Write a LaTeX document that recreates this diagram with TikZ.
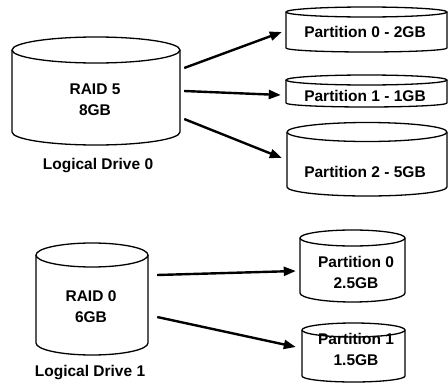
\documentclass[tikz,border=0pt]{standalone}
\usepackage{fontspec}
\setmainfont{Liberation Sans}
\usetikzlibrary{arrows.meta}
\tikzset{
  cylline/.style={draw=black, line width=1.3pt, line join=round},
  lbl/.style={font=\bfseries\fontsize{15.5}{21}\selectfont, inner sep=0pt, align=center},
  conn/.style={line width=2.4pt, -{Triangle[length=12pt,width=9pt]}},
  body/.style={inner sep=0pt, draw=none}
}
% \drawcyl{name}{left}{right}{top cy}{top ry}{bottom cy}{bottom ry}
\newcommand{\drawcyl}[7]{%
  \pgfmathsetmacro{\cx}{(#2+#3)/2}%
  \pgfmathsetmacro{\rx}{(#3-#2)/2}%
  \pgfmathsetmacro{\hh}{#6-#4}%
  \draw[cylline] (#2,#4) -- (#2,#6) arc[start angle=180, end angle=360, x radius=\rx pt, y radius=#7pt] -- (#3,#4);
  \draw[cylline] (\cx,#4) ellipse[x radius=\rx pt, y radius=#5pt];
  \node[body, minimum width=\rx*2pt, minimum height=\hh pt] (#1) at (\cx,{(#4+#6)/2}) {};
}
\begin{document}
\begin{tikzpicture}[x=1pt, y=-1pt]
\useasboundingbox (0,0) rectangle (448,383);

% logical drives
\drawcyl{rfive}{12}{180}{50}{13}{132}{13}
\drawcyl{rzero}{36}{148}{255}{12}{343}{12}
% partitions
\drawcyl{pa}{286}{447}{12}{5}{48}{4}
\drawcyl{pb}{286}{447}{80}{5}{103}{4}
\drawcyl{pc}{287}{447}{132}{9.5}{187}{9}
\drawcyl{qa}{300}{405}{238}{8}{293}{9}
\drawcyl{qb}{302}{405}{330}{7}{376}{6}

% texts
\node[lbl] (trfive) at (95,100) {RAID 5\\8GB};
\node[lbl] (lrfive) at (98,166) {Logical Drive 0};
\node[lbl] (trzero) at (91,306.5) {RAID 0\\6GB};
\node[lbl] (lrzero) at (90,373) {Logical Drive 1};
\node[lbl] (tpa) at (365,32) {Partition 0 - 2GB};
\node[lbl] (tpb) at (365,96) {Partition 1 - 1GB};
\node[lbl] (tpc) at (365,172) {Partition 2 - 5GB};
\node[lbl] (tqa) at (356,272) {Partition 0\\2.5GB};
\node[lbl] (tqb) at (356,349.5) {Partition 1\\1.5GB};

% connectors
\draw[conn] ([xshift=4pt, yshift=23pt]rfive.east) -- ([xshift=-4pt, yshift=-2pt]pa.west);
\draw[conn] ([xshift=4pt, yshift=0pt]rfive.east) -- ([xshift=-5pt, yshift=-3.5pt]pb.west);
\draw[conn] ([xshift=4pt, yshift=-28pt]rfive.east) -- ([xshift=-5pt, yshift=1.5pt]pc.west);
\draw[conn] ([xshift=9pt, yshift=24pt]rzero.east) -- ([xshift=-4pt, yshift=-5.5pt]qa.west);
\draw[conn] ([xshift=9pt, yshift=-18pt]rzero.east) -- ([xshift=-6pt, yshift=6pt]qb.west);
\end{tikzpicture}
\end{document}
